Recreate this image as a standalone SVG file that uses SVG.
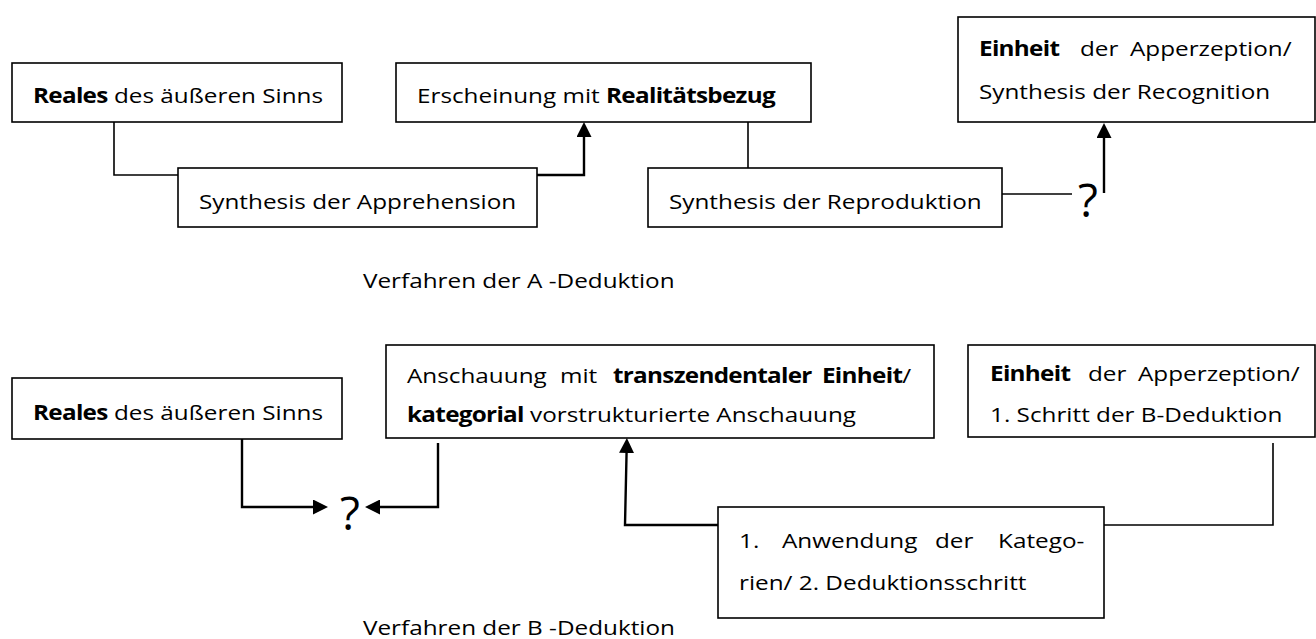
<svg xmlns="http://www.w3.org/2000/svg" width="1316" height="639" viewBox="0 0 1316 639">
  <style>
    .box { fill: #fff; stroke: #000; stroke-width: 1.6; }
    .t { font-family: "Open Sans", "Liberation Sans", sans-serif; font-size: 20.5px; fill: #000; }
    .b { font-weight: bold; letter-spacing: -0.6px; }
    .q { font-family: "Open Sans", "Liberation Sans", sans-serif; font-size: 46px; fill: #000; }
    .ln { fill: none; stroke: #000; stroke-width: 1.6; }
    .ar { fill: none; stroke: #000; stroke-width: 2.4; }
  </style>
  <defs>
    <marker id="head" viewBox="0 0 15 15" refX="11" refY="7.5" markerWidth="15" markerHeight="15" markerUnits="userSpaceOnUse" orient="auto">
      <path d="M0,0 L15,7.5 L0,15 z" fill="#000"/>
    </marker>
  </defs>

  <!-- A-Deduktion -->
  <g id="a-reales">
    <rect class="box" x="12" y="63" width="330" height="59"/>
    <text class="t" transform="translate(33,103) scale(1.185 1)"><tspan class="b">Reales</tspan> des äußeren Sinns</text>
  </g>
  <g id="a-erscheinung">
    <rect class="box" x="396" y="63" width="415" height="59"/>
    <text class="t" transform="translate(417,103) scale(1.185 1)">Erscheinung mit <tspan class="b">Realitätsbezug</tspan></text>
  </g>
  <g id="a-apprehension">
    <rect class="box" x="178" y="168" width="359" height="59"/>
    <text class="t" transform="translate(199,209) scale(1.185 1)">Synthesis der Apprehension</text>
  </g>
  <g id="a-reproduktion">
    <rect class="box" x="648" y="168" width="354" height="59"/>
    <text class="t" transform="translate(669,209) scale(1.185 1)">Synthesis der Reproduktion</text>
  </g>
  <g id="a-einheit">
    <rect class="box" x="958" y="17" width="357" height="105"/>
    <text class="t" transform="translate(979,56) scale(1.185 1)"><tspan class="b" x="0">Einheit</tspan><tspan x="85.2">der</tspan><tspan x="127.4">Apperzeption/</tspan></text>
    <text class="t" transform="translate(979,99) scale(1.185 1)">Synthesis der Recognition</text>
  </g>
  <g id="a-frage">
    <text class="q" x="1078" y="217">?</text>
  </g>
  <g id="a-caption">
    <text class="t" transform="translate(363,288) scale(1.185 1)">Verfahren der A -Deduktion</text>
  </g>

  <!-- B-Deduktion -->
  <g id="b-reales">
    <rect class="box" x="12" y="378" width="330" height="61"/>
    <text class="t" transform="translate(33,420) scale(1.185 1)"><tspan class="b">Reales</tspan> des äußeren Sinns</text>
  </g>
  <g id="b-anschauung">
    <rect class="box" x="386" y="345" width="548" height="93"/>
    <text class="t" transform="translate(407,383) scale(1.185 1)"><tspan x="0">Anschauung</tspan><tspan x="129.1">mit</tspan><tspan class="b" x="173.8">transzendentaler</tspan><tspan class="b" x="350.2">Einheit</tspan>/</text>
    <text class="t" transform="translate(407,422) scale(1.185 1)"><tspan class="b">kategorial</tspan> vorstrukturierte Anschauung</text>
  </g>
  <g id="b-einheit">
    <rect class="box" x="968" y="345" width="347" height="92"/>
    <text class="t" transform="translate(990,381) scale(1.185 1)"><tspan class="b" x="0">Einheit</tspan><tspan x="82.7">der</tspan><tspan x="124.9">Apperzeption/</tspan></text>
    <text class="t" transform="translate(990,422) scale(1.185 1)">1. Schritt der B-Deduktion</text>
  </g>
  <g id="b-anwendung">
    <rect class="box" x="718" y="507" width="386" height="111"/>
    <text class="t" transform="translate(739,548) scale(1.185 1)"><tspan x="0">1.</tspan><tspan x="36.3">Anwendung</tspan><tspan x="165.4">der</tspan><tspan x="218.6">Katego-</tspan></text>
    <text class="t" transform="translate(739,590) scale(1.185 1)">rien/ 2. Deduktionsschritt</text>
  </g>
  <g id="b-frage">
    <text class="q" x="340" y="530">?</text>
  </g>
  <g id="b-caption">
    <text class="t" transform="translate(363,635) scale(1.185 1)">Verfahren der B -Deduktion</text>
  </g>

  <!-- connectors -->
  <g id="connectors">
    <path class="ln" d="M114,122 V175 H178"/>
    <path class="ar" d="M537,175 H584 V126" marker-end="url(#head)"/>
    <path class="ln" d="M748,122 V168"/>
    <path class="ln" d="M1002,194 H1072"/>
    <path class="ar" d="M1104,193 V127" marker-end="url(#head)"/>

    <path class="ar" d="M242,439 V507 H324" marker-end="url(#head)"/>
    <path class="ar" d="M438,443 V507 H369" marker-end="url(#head)"/>
    <path class="ar" d="M718,525 H625 L626.8,442" marker-end="url(#head)"/>
    <path class="ln" d="M1104,525 H1273 V443"/>
  </g>
</svg>
